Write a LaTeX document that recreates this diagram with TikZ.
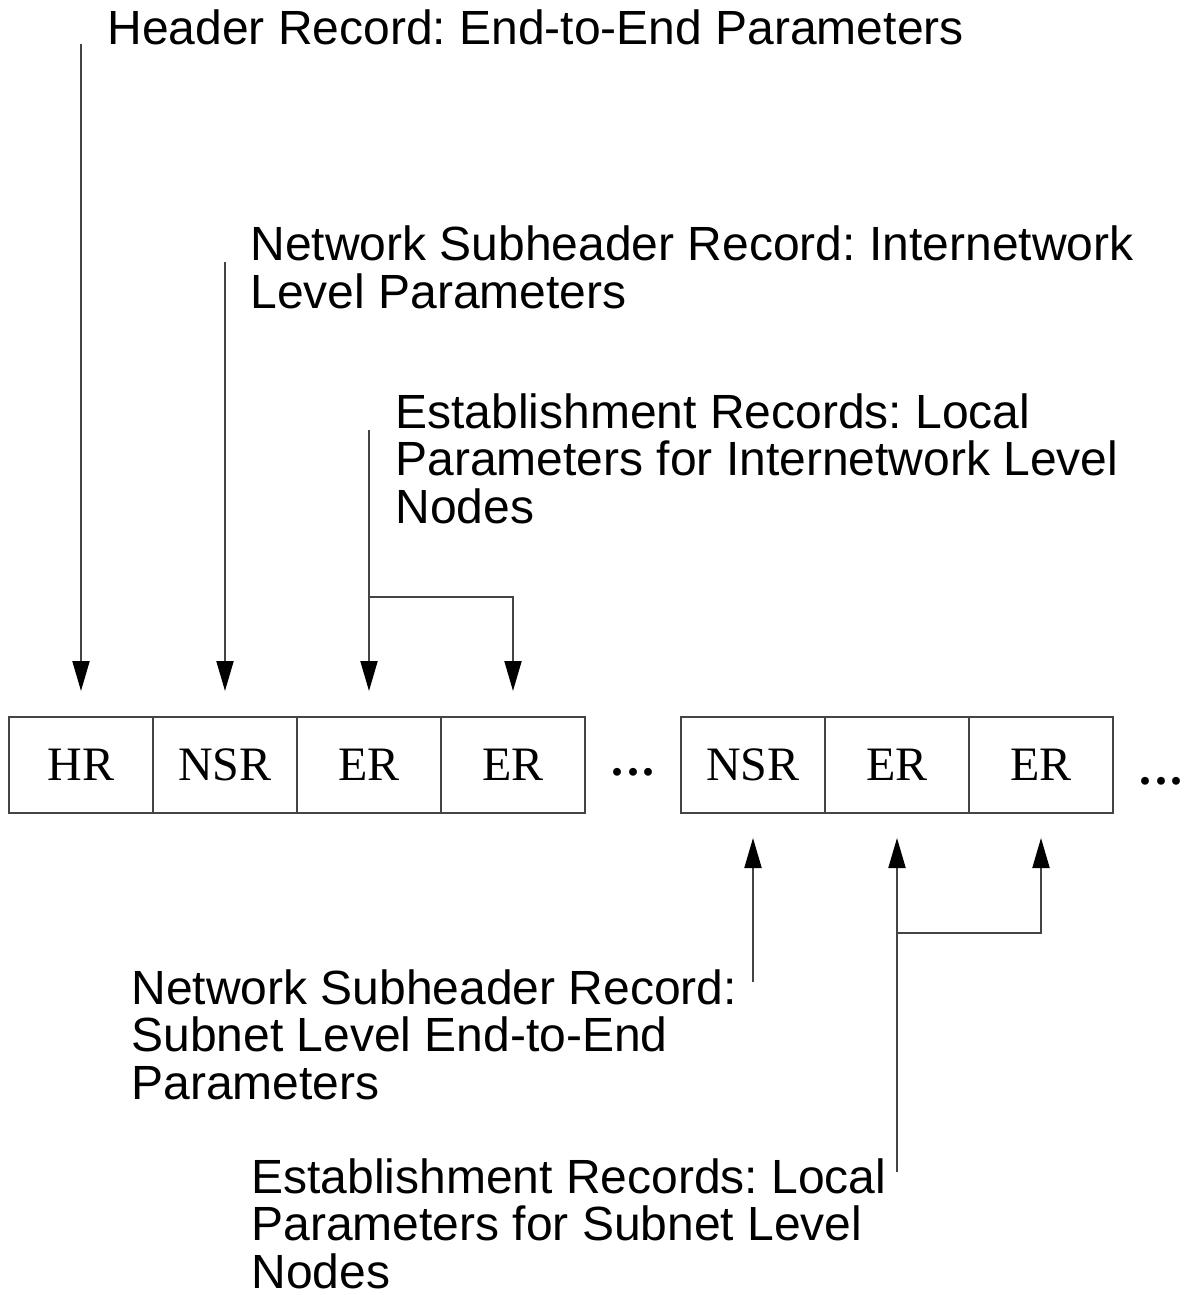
\documentclass[tikz,border=0pt]{standalone}
\usepackage{fontspec}
\setmainfont{Liberation Sans}
\newfontfamily\cellfont{Liberation Serif}
\usetikzlibrary{arrows.meta}
\definecolor{rule}{HTML}{444444}
\frenchspacing

\begin{document}
\begin{tikzpicture}[x=0.5pt,y=-0.5pt,
  cell/.style={draw=rule, line width=1pt, minimum width=72pt, minimum height=48pt,
    inner sep=0pt, font=\cellfont\fontsize{24}{24}\selectfont},
  % multi-line captions: the base anchor sits on the last line
  labeltext/.style={anchor=base west, inner sep=0pt, align=left,
    font=\fontsize{24}{23.6}\selectfont},
  ellip/.style={anchor=base, inner sep=0pt, font=\cellfont\bfseries\fontsize{24}{24}\selectfont},
  feed/.style={draw=rule, line width=1pt, line join=miter,
    -{Triangle[length=15pt,width=8.5pt,color=black]}},
  intodown/.style={feed, shorten >=12.5pt},
  intoup/.style={feed, shorten >=12pt}]

\useasboundingbox (0,0) rectangle (1186,1295);

% record cells of the message
\node[cell] (hr)   at (81,765)   {HR};
\node[cell] (nsr1) at (225,765)  {NSR};
\node[cell] (er1)  at (369,765)  {ER};
\node[cell] (er2)  at (513,765)  {ER};
\node[ellip] (gap1) at (633,775) {.\kern0.07em.\kern0.07em.};
\node[cell] (nsr2) at (753,765)  {NSR};
\node[cell] (er3)  at (897,765)  {ER};
\node[cell] (er4)  at (1041,765) {ER};
\node[ellip] (gap2) at (1161,784) {.\kern0.07em.\kern0.07em.};

% captions
\node[labeltext] (capHR) at (107,45) {Header Record: End-to-End Parameters};
\node[labeltext] (capNSR) at (250,308) {Network Subheader Record: Internetwork\\Level Parameters};
\node[labeltext] (capER) at (395,523) {Establishment Records: Local\\Parameters for Internetwork Level\\Nodes};
\node[labeltext] (capNSRb) at (131,1099) {Network Subheader Record:\\Subnet Level End-to-End\\Parameters};
\node[labeltext, text depth=0pt] (capERb) at (251,1288) {Establishment Records: Local\\Parameters for Subnet Level\\Nodes};

% free ends of the pointers
\coordinate (hrsrc)  at (81,44);
\coordinate (nsrsrc) at (225,262);
\coordinate (ersrc)  at (369,430);
\coordinate (erfork) at (369,597);
\coordinate (nsrbsrc) at (753,982);
\coordinate (erbsrc) at (897,1172);
\coordinate (erbfork) at (897,933);

% pointers from above
\draw[intodown] (hrsrc) -- (hr.north);
\draw[intodown] (nsrsrc) -- (nsr1.north);
\draw[intodown] (ersrc) -- (er1.north);
\draw[intodown] (erfork) -- (erfork -| er2.north) -- (er2.north);

% pointers from below
\draw[intoup] (nsrbsrc) -- (nsr2.south);
\draw[intoup] (erbsrc) -- (er3.south);
\draw[intoup] (erbfork) -- (erbfork -| er4.south) -- (er4.south);
\end{tikzpicture}
\end{document}
